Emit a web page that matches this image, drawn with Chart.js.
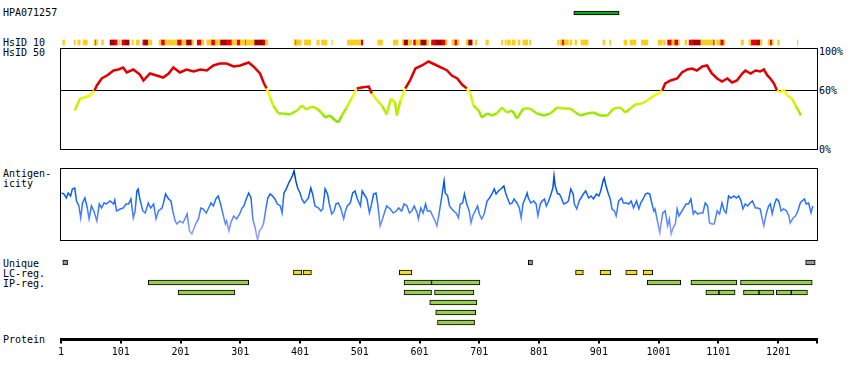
<!DOCTYPE html>
<html lang="en">
<head>
<meta charset="UTF-8" />
<title>HPA071257</title>
<script src="https://cdn.jsdelivr.net/npm/chart.js"></script>
<style>
  body { margin: 0; background: #fff; }
  #page { position: relative; width: 850px; height: 380px; overflow: hidden;
          font-family: "DejaVu Sans Mono", monospace; font-size: 10px; line-height: 12px; color: #000; }
  #page canvas { position: absolute; left: 0; }
  .lbl { position: absolute; white-space: pre; }
</style>
</head>
<body>
<div id="page">
  <!-- left hand labels -->
  <div class="lbl" style="left:3px;top:7px">HPA071257</div>
  <div class="lbl" style="left:3px;top:37px">HsID 10</div>
  <div class="lbl" style="left:3px;top:47px">HsID 50</div>
  <div class="lbl" style="left:3px;top:168px">Antigen-</div>
  <div class="lbl" style="left:3px;top:178px">icity</div>
  <div class="lbl" style="left:3px;top:258px">Unique</div>
  <div class="lbl" style="left:3px;top:268px">LC-reg.</div>
  <div class="lbl" style="left:3px;top:278px">IP-reg.</div>
  <div class="lbl" style="left:3px;top:334px">Protein</div>
  <!-- right hand scale of HsID 50 -->
  <div class="lbl" style="left:819px;top:46px">100%</div>
  <div class="lbl" style="left:819px;top:85px">60%</div>
  <div class="lbl" style="left:819px;top:144px">0%</div>

  <canvas id="hpa" width="850" height="10" style="top:8px"></canvas>
  <canvas id="hsid10" width="850" height="9" style="top:38px"></canvas>
  <canvas id="hsid50" width="850" height="104" style="top:47px"></canvas>
  <canvas id="antigen" width="850" height="75" style="top:167px"></canvas>
  <canvas id="tracks" width="850" height="71" style="top:257px"></canvas>
  <canvas id="protein" width="850" height="40" style="top:324px"></canvas>
</div>

<script>
// ---- data (residue positions) ----
const proteinLength = 1266;
const proteinTicks = [1, 101, 201, 301, 401, 501, 601, 701, 801, 901, 1001, 1101, 1201];

const epitope = [[859, 935]]; // HPA071257

// HsID 10 blocks
const hsid10Yellow = [[4,7],[23,25],[29,33],[38,45],[56,58],[60,62],[69,72],[98,100],[120,122],[127,132],
  [147,153],[165,168],[175,195],[203,210],[220,223],[236,240],[245,252],[259,267],[287,295],[301,309],
  [311,324],[343,347],[391,393],[395,403],[408,419],[429,433],[437,446],[454,455],[480,502],[531,539],
  [557,565],[572,574],[582,588],[595,602],[613,616],[645,647],[655,659],[664,667],[679,682],[694,697],
  [712,716],[738,740],[744,746],[748,753],[756,761],[766,769],[774,782],[785,787],[832,834],[836,839],
  [843,850],[853,856],[861,864],[871,883],[908,911],[919,921],[943,948],[953,963],[972,983],[1000,1007],
  [1009,1012],[1023,1027],[1034,1036],[1045,1048],[1072,1092],[1098,1104],[1110,1112],[1139,1143],
  [1152,1155],[1171,1174],[1184,1187],[1191,1193],[1200,1203],[1233,1234]];
const hsid10Red = [[58,60],[91,95],[103,107],[138,140],[168,175],[195,203],[229,236],[252,259],[278,287],
  [295,301],[309,311],[340,343],[393,395],[503,506],[591,595],[621,627],[638,644],[659,664],[839,843],
  [1016,1023],[1027,1034],[1052,1058],[1092,1094],[1104,1110],[1155,1166],[1187,1191]];
const hsid10DarkRed = [[83,91],[107,115],[140,147],[210,220],[267,278],[324,340],[574,582],[602,613],
  [627,638],[682,689],[1058,1071],[1166,1171]];

// HsID 50 (%)
const hsid50Pos = [24,33,41,50,57,61,69,78,89,97,105,111,122,133,139,150,161,172,181,189,200,211,223,234,
  245,256,267,278,290,301,315,323,334,340,345,351,356,365,373,384,396,404,412,421,429,438,443,451,460,465,
  471,479,488,496,504,516,521,530,538,546,553,560,563,569,577,585,594,605,616,630,641,647,655,664,672,680,
  686,691,700,705,714,722,730,739,747,756,764,775,786,797,809,820,831,842,853,862,870,881,892,903,915,926,
  937,945,954,962,973,982,993,1001,1007,1012,1021,1032,1040,1049,1057,1065,1074,1082,1090,1099,1107,1116,
  1124,1132,1141,1146,1155,1163,1171,1177,1183,1188,1194,1199,1205,1210,1216,1224,1230,1235,1239];
const hsid50Val = [40,52,53,55,60,65,72,75,80,81,83,78,81,76,70,77,75,73,77,83,78,81,79,81,
  80,85,87,87,84,85,88,84,77,68,62,53,45,37,37,36,40,45,41,44,42,37,33,35,30,28,
  35,43,53,62,63,64,57,50,45,36,52,48,35,50,62,70,82,85,89,85,82,80,75,72,66,62,
  57,45,40,33,37,35,37,43,38,40,32,42,42,37,35,37,43,42,42,38,35,37,38,35,35,42,
  43,38,42,46,47,50,55,57,60,67,70,72,78,81,82,80,84,85,77,72,69,72,
  68,70,77,80,77,80,79,81,75,72,67,60,58,61,55,52,45,40,35];
const hsid50Cut = 60;

// Antigenicity (relative score)
const antigenPos = [2,6,10,13,17,20,24,27,31,34,37,41,45,48,52,56,61,65,69,73,77,83,89,91,94,100,105,110,114,
  118,122,125,128,130,133,138,142,147,151,156,160,164,170,172,176,181,185,188,192,195,200,205,209,212,216,220,
  223,227,231,235,239,244,248,252,256,260,264,268,272,276,278,282,285,290,295,300,304,307,311,315,319,322,326,
  330,333,337,340,344,347,351,355,359,363,368,371,374,378,382,384,388,391,394,397,401,404,408,411,415,419,422,
  426,432,436,439,443,447,450,454,458,461,465,469,474,477,480,485,489,493,497,502,505,508,513,517,520,524,528,
  531,535,539,542,546,552,557,562,566,571,575,580,584,588,592,597,599,603,607,611,614,
  619,623,627,630,633,637,639,642,644,648,651,655,658,662,666,669,673,676,680,684,687,690,694,698,701,705,709,
  714,718,722,726,729,733,737,742,745,748,752,756,759,764,768,771,774,778,781,783,787,792,796,799,803,806,810,
  813,817,821,824,826,828,832,835,839,842,846,850,854,858,860,864,868,871,875,879,884,888,892,897,901,904,908,
  910,913,917,920,923,927,930,934,939,942,947,951,955,959,964,968,971,975,979,983,986,990,993,995,999,1003,
  1005,1008,1012,1016,1019,1022,1025,1029,1032,1035,1038,1043,1047,1051,1055,1059,1062,1066,1071,1075,1079,
  1083,1086,1090,1094,1099,1103,1107,1111,1114,1118,1122,1127,1131,1135,1139,1142,1146,1150,1154,1158,1163,
  1167,1171,1174,1177,1181,1185,1188,1191,1195,1198,1202,1206,1210,1215,1219,1221,1226,1230,1234,1238,1241,
  1245,1248,1252,1256,1259];
const antigenVal = [48,47,43,48,45,52,53,40,35,23,38,43,33,22,35,30,20,37,33,38,37,40,37,41,30,32,33,37,37,
  42,23,30,50,52,42,30,28,38,33,37,22,30,33,37,47,42,40,30,20,17,20,18,23,27,10,7,
  12,18,22,33,32,28,33,38,35,42,45,37,27,17,20,10,18,25,22,27,33,35,42,48,43,22,13,
  0,10,13,18,33,43,47,45,42,37,35,28,48,52,58,60,65,70,60,53,48,42,38,40,43,53,47,
  35,33,30,32,52,47,37,27,30,37,38,33,22,30,35,38,48,50,42,35,50,47,42,28,35,47,48,
  37,15,22,28,35,32,28,30,33,30,37,35,28,30,35,28,22,33,28,37,30,
  30,25,20,15,25,40,48,60,48,45,35,32,30,28,23,37,38,47,37,30,18,25,30,35,27,22,27,
  40,43,47,52,47,50,52,55,48,43,37,38,42,38,33,23,37,43,48,43,38,40,37,25,37,40,42,
  35,40,47,53,65,55,47,47,42,37,38,40,52,47,37,32,40,43,47,50,43,45,42,47,45,50,60,
  63,55,47,42,32,30,25,40,43,38,38,37,40,33,40,32,38,42,47,48,47,37,30,32,20,8,
  17,28,30,15,22,7,13,17,32,25,28,33,37,37,42,27,30,27,28,28,38,
  35,18,17,17,30,27,38,30,28,45,43,45,43,45,40,32,37,35,38,40,33,
  33,32,23,15,27,35,37,27,37,42,40,30,32,30,25,18,23,25,30,38,40,
  42,37,38,28,35];

// Regions
const uniqueRegions = [[4,12],[783,790],[1247,1263]];
const lcRegions = [[390,404],[406,420],[567,588],[862,875],[903,921],[946,965],[975,991]];
const ipRows = [
  [[147,315],[575,621],[621,702],[982,1038],[1055,1132],[1138,1258]],
  [[197,292],[575,621],[626,692],[1080,1102],[1102,1129],[1143,1169],[1169,1194],[1198,1223],[1223,1250]],
  [[618,697]],
  [[628,695]],
  [[631,693]]
];
const trackRows = ['unique', 'lc', 'ip1', 'ip2', 'ip3', 'ip4', 'ip5'];

// ---- helpers ----
const xScale = { type: 'linear', min: 1, max: proteinLength, display: false };
const pad = (top, bottom) => ({ padding: { left: 61, right: 33, top: top, bottom: bottom } });
const quiet = { legend: { display: false }, tooltip: { enabled: false } };

function spans(regions, row) {
  return regions.map(r => ({ x: [r[0], r[1]], y: row }));
}

// frame around a plot area
const framePlugin = {
  id: 'frame',
  afterDraw(chart) {
    const a = chart.chartArea;
    const ctx = chart.ctx;
    ctx.save();
    ctx.strokeStyle = '#000';
    ctx.lineWidth = 1;
    ctx.strokeRect(a.left - 0.5, a.top - 0.5, a.right - a.left + 1, a.bottom - a.top);
    ctx.restore();
  }
};

function hsidColor(v) {
  if (v >= hsid50Cut) return '#e00000';
  const t = Math.min(1, (hsid50Cut - v) / 30);
  return 'rgb(' + Math.round(255 - 125 * t) + ',' + Math.round(255 - 30 * t) + ',0)';
}

function antigenStroke(context) {
  const chart = context.chart;
  const area = chart.chartArea;
  if (!area) return '#1a6cff';
  const g = chart.ctx.createLinearGradient(0, area.top, 0, area.bottom);
  g.addColorStop(0, '#003c9c');
  g.addColorStop(0.25, '#0058d8');
  g.addColorStop(0.45, '#1a6cff');
  g.addColorStop(0.7, '#5a86ff');
  g.addColorStop(1, '#b4a8ff');
  return g;
}

// ---- HPA071257 epitope bar ----
new Chart(document.getElementById('hpa'), {
  type: 'bar',
  data: {
    labels: ['HPA071257'],
    datasets: [{
      data: spans(epitope, 'HPA071257'),
      backgroundColor: '#1e9e1e', borderColor: '#000', borderWidth: 1,
      borderSkipped: false, barThickness: 4
    }]
  },
  options: {
    indexAxis: 'y', responsive: false, animation: false, events: [],
    layout: pad(0, 0), plugins: quiet,
    scales: { x: xScale, y: { display: false } }
  }
});

// ---- HsID 10 ----
new Chart(document.getElementById('hsid10'), {
  type: 'bar',
  data: {
    labels: ['HsID 10'],
    datasets: [
      { data: spans(hsid10Yellow, 'HsID 10'), backgroundColor: '#ffcc1a' },
      { data: spans(hsid10Red, 'HsID 10'), backgroundColor: '#e60000' },
      { data: spans(hsid10DarkRed, 'HsID 10'), backgroundColor: '#a00000' }
    ]
  },
  options: {
    indexAxis: 'y', responsive: false, animation: false, events: [],
    layout: pad(0, 0), plugins: quiet,
    datasets: { bar: { grouped: false, barThickness: 5, borderWidth: 0 } },
    scales: { x: xScale, y: { display: false } }
  }
});

// ---- HsID 50 ----
new Chart(document.getElementById('hsid50'), {
  type: 'line',
  data: {
    datasets: [
      {
        data: hsid50Pos.map((p, i) => ({ x: p, y: hsid50Val[i] })),
        borderColor: '#e00000', borderWidth: 2.5, pointRadius: 0,
        segment: { borderColor: c => hsidColor((c.p0.parsed.y + c.p1.parsed.y) / 2) }
      },
      {
        data: [{ x: 1, y: hsid50Cut }, { x: proteinLength, y: hsid50Cut }],
        borderColor: '#000', borderWidth: 1, pointRadius: 0
      }
    ]
  },
  options: {
    responsive: false, animation: false, events: [],
    layout: pad(2, 1), plugins: quiet,
    // half a unit of shift keeps the 60% rule on a whole pixel row
    scales: { x: xScale, y: { min: 0.5, max: 101.5, display: false } }
  },
  plugins: [framePlugin]
});

// ---- Antigenicity ----
new Chart(document.getElementById('antigen'), {
  type: 'line',
  data: {
    datasets: [{
      data: antigenPos.map((p, i) => ({ x: p, y: antigenVal[i] })),
      borderColor: antigenStroke, borderWidth: 1.5, pointRadius: 0
    }]
  },
  options: {
    responsive: false, animation: false, events: [],
    layout: pad(2, 1), plugins: quiet,
    scales: { x: xScale, y: { min: 0, max: 72, display: false } }
  },
  plugins: [framePlugin]
});

// ---- Unique / LC / IP regions ----
const ipColor = '#99cc55';
new Chart(document.getElementById('tracks'), {
  type: 'bar',
  data: {
    labels: trackRows,
    datasets: [
      { data: spans(uniqueRegions, 'unique'), backgroundColor: '#999999' },
      { data: spans(lcRegions, 'lc'), backgroundColor: '#f0dc28' }
    ].concat(ipRows.map((row, i) => ({ data: spans(row, 'ip' + (i + 1)), backgroundColor: ipColor })))
  },
  options: {
    indexAxis: 'y', responsive: false, animation: false, events: [],
    layout: pad(0.5, 0.5), plugins: quiet,
    datasets: { bar: { grouped: false, barThickness: 5, borderWidth: 1, borderColor: '#000', borderSkipped: false } },
    scales: { x: xScale, y: { display: false } }
  }
});

// ---- Protein axis ----
new Chart(document.getElementById('protein'), {
  type: 'line',
  data: { datasets: [] },
  options: {
    responsive: false, animation: false, events: [],
    layout: pad(0, 9), plugins: quiet,
    scales: {
      x: {
        type: 'linear', min: 1, max: proteinLength, position: 'bottom',
        afterBuildTicks: axis => {
          axis.ticks = proteinTicks.concat([proteinLength]).map(v => ({ value: v }));
        },
        ticks: {
          autoSkip: false, maxRotation: 0, padding: 3, color: '#000',
          font: { family: 'DejaVu Sans Mono', size: 10 },
          callback: v => proteinTicks.includes(v) ? String(v) : ''
        },
        grid: { drawOnChartArea: false, drawTicks: true, tickLength: 4, color: '#000', lineWidth: 2 },
        border: { display: true, color: '#000', width: 3 }
      },
      y: { display: false }
    }
  }
});
</script>
</body>
</html>
